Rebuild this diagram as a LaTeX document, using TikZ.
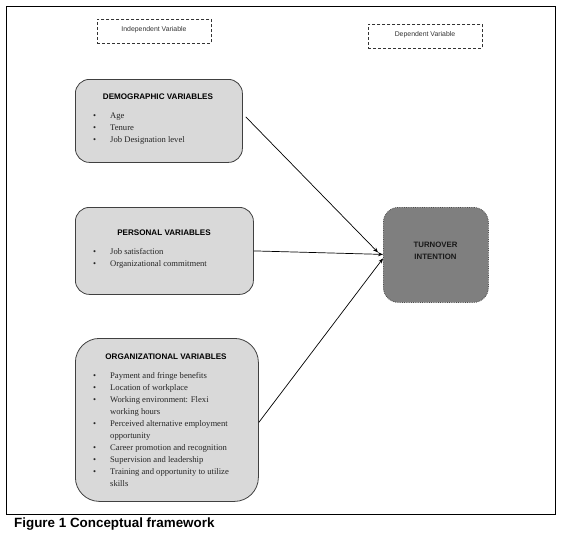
\documentclass[tikz,border=0pt]{standalone}
\usepackage{fontspec}
\setmainfont{Liberation Serif}
\newfontfamily\hdfont{Liberation Sans}
\usetikzlibrary{arrows.meta,calc}
\definecolor{boxgray}{HTML}{D9D9D9}
\definecolor{darkbox}{HTML}{7F7F7F}
\definecolor{edgegray}{HTML}{404040}
\tikzset{
  varbox/.style={draw=edgegray, line width=0.8pt, fill=boxgray, rounded corners=14pt},
  labelbox/.style={draw=black!80, densely dashed, line width=0.7pt},
  hdtext/.style={font=\hdfont\bfseries\fontsize{8.1}{9}\selectfont, inner sep=0pt, anchor=base},
  lbltext/.style={font=\hdfont\fontsize{6.9}{8}\selectfont, inner sep=0pt, anchor=base, text=black!80},
  listtext/.style={font=\fontsize{8.6}{12}\selectfont, inner sep=0pt, anchor=north west, align=left, text=black!85},
  arr/.style={line width=0.7pt, -{Stealth[length=5pt,width=4pt]}}
}
\newcommand{\bul}{\textbullet}
\begin{document}
\begin{tikzpicture}[x=1pt,y=-1pt]
\useasboundingbox (0,0) rectangle (569,539);
\node[draw=black, line width=1pt, minimum width=549pt, minimum height=508pt, inner sep=0pt, anchor=north west] (frame) at (6,6) {};

\node[labelbox, minimum width=114pt, minimum height=24pt, inner sep=0pt, anchor=north west] (indep) at (97,19) {};
\node[lbltext] (indept) at (154,31) {Independent Variable};
\node[labelbox, minimum width=114pt, minimum height=24pt, inner sep=0pt, anchor=north west] (dep) at (368,24) {};
\node[lbltext] (dept) at (425,36) {Dependent Variable};

\node[varbox, minimum width=167pt, minimum height=83pt, inner sep=0pt, anchor=north west] (demo) at (75,79) {};
\node[hdtext] (demoh) at (158,99) {DEMOGRAPHIC VARIABLES};
\node[listtext] (demol) at (93,109.6) {\begin{tabular}{@{}p{17pt}@{}l@{}}
\bul & Age\\ \bul & Tenure\\ \bul & Job Designation level\end{tabular}};

\node[varbox, minimum width=178pt, minimum height=87pt, inner sep=0pt, anchor=north west] (pers) at (75,207) {};
\node[hdtext] (persh) at (164,235) {PERSONAL VARIABLES};
\node[listtext] (persl) at (93,245.6) {\begin{tabular}{@{}p{17pt}@{}l@{}}
\bul & Job satisfaction\\ \bul & Organizational commitment\end{tabular}};

\node[varbox, rounded corners=24pt, minimum width=183pt, minimum height=163pt, inner sep=0pt, anchor=north west] (org) at (75,338) {};
\node[hdtext] (orgh) at (166,359) {ORGANIZATIONAL VARIABLES};
\node[listtext] (orgl) at (93,369.6) {\begin{tabular}{@{}p{17pt}@{}l@{}}
\bul & Payment and fringe benefits\\
\bul & Location of workplace\\
\bul & Working environment: Flexi\\
 & working hours\\
\bul & Perceived alternative employment\\
 & opportunity\\
\bul & Career promotion and recognition\\
\bul & Supervision and leadership\\
\bul & Training and opportunity to utilize\\
 & skills\end{tabular}};

\node[draw=black!70, densely dotted, line width=0.8pt, fill=darkbox, rounded corners=15pt, minimum width=105pt, minimum height=95pt, inner sep=0pt, anchor=north west] (turn) at (383,207) {};
\node[hdtext, align=center, anchor=center, text=black!90, font=\hdfont\bfseries\fontsize{7.8}{12}\selectfont] (turnt) at (435.5,251) {TURNOVER\\INTENTION};

\draw[arr] ([xshift=3pt,yshift=4pt]demo.east) -- ([xshift=-5pt,yshift=2.5pt]turn.west);
\draw[arr] (pers.east) -- ([yshift=0.5pt]turn.west);
\draw[arr] ([yshift=-2.5pt]org.east) -- ([yshift=-3.5pt]turn.west);

\node[font=\hdfont\bfseries\fontsize{13.4}{15}\selectfont, inner sep=0pt, anchor=base west] (cap) at (14,527) {Figure 1 Conceptual framework};
\end{tikzpicture}
\end{document}
